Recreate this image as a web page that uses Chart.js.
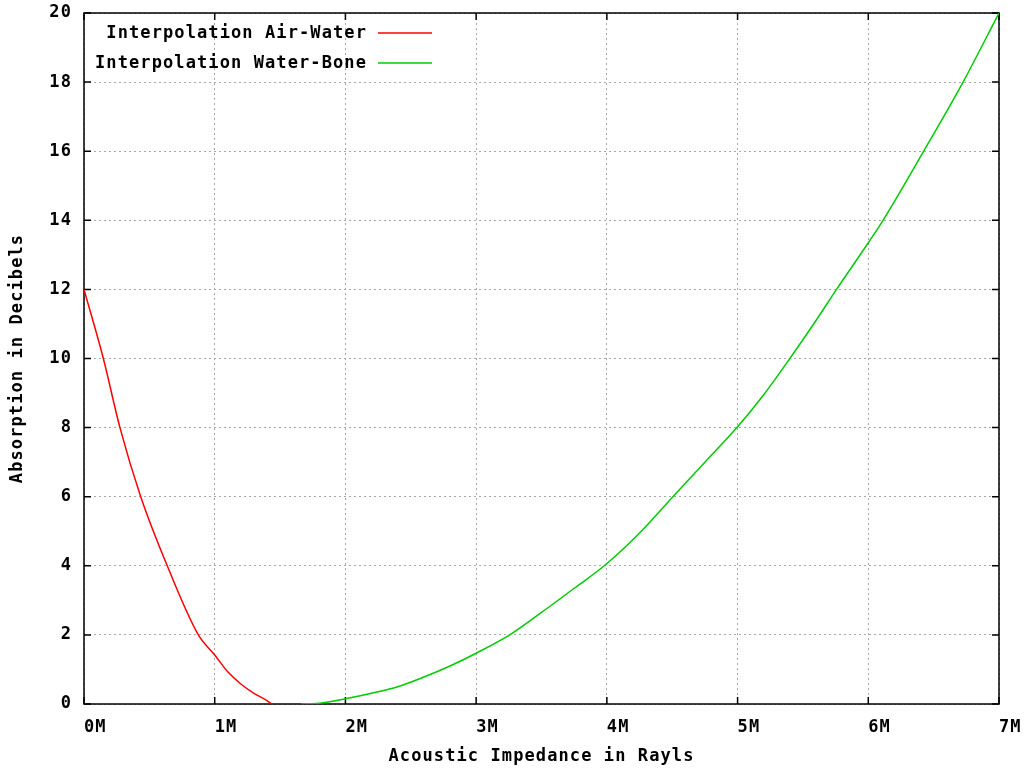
<!DOCTYPE html>
<html>
<head>
<meta charset="utf-8">
<script src="https://cdn.jsdelivr.net/npm/chart.js@4.4.1/dist/chart.umd.min.js"></script>
<style>
  html, body { margin: 0; padding: 0; background: #fff; }
  canvas { display: block; }
</style>
</head>
<body>
<canvas id="chart" width="1026" height="768"></canvas>
<script>
// values
const seriesLabels = ['Interpolation Air-Water', 'Interpolation Water-Bone'];
const airWaterX = [0, 0.148, 0.275, 0.434, 0.637, 0.875, 1.0, 1.1, 1.2, 1.3, 1.4, 1.436];
const airWaterY = [12, 10, 8, 6, 4, 2, 1.42, 0.93, 0.58, 0.31, 0.1, 0];
const waterBoneX = [1.66, 1.8, 2.0, 2.2, 2.4, 2.6, 2.8, 3.0, 3.257, 3.5, 3.75, 3.98, 4.25, 4.505, 4.75, 4.995, 5.2, 5.4, 5.6, 5.757, 6.0, 6.113, 6.424, 6.725, 7.0];
const waterBoneY = [0, 0.02, 0.15, 0.31, 0.5, 0.78, 1.1, 1.47, 2, 2.65, 3.35, 4, 4.95, 6, 7, 8, 8.95, 10, 11.1, 12, 13.35, 14, 16, 18, 20];
const xTicks = [0, 1, 2, 3, 4, 5, 6, 7];
const yTicks = [0, 2, 4, 6, 8, 10, 12, 14, 16, 18, 20];

const FONT = { family: '"DejaVu Sans Mono", monospace', size: 17, weight: 'bold' };
const SPACING = '1.1px';

const toPoints = (xs, ys) => xs.map((x, i) => ({ x, y: ys[i] }));

// gnuplot style: spaced text, border box with inward ticks on all sides, legend inside
const gnuplotLook = {
  id: 'gnuplotLook',
  beforeDraw(chart) {
    chart.ctx.letterSpacing = SPACING;
  },
  beforeDatasetsDraw(chart) {
    const { ctx, chartArea: a, scales } = chart;
    ctx.save();
    ctx.strokeStyle = '#000';
    ctx.lineWidth = 1.5;
    ctx.strokeRect(a.left, a.top, a.right - a.left, a.bottom - a.top);
    ctx.beginPath();
    xTicks.forEach(v => {
      const px = scales.x.getPixelForValue(v);
      ctx.moveTo(px, a.bottom); ctx.lineTo(px, a.bottom - 7);
      ctx.moveTo(px, a.top); ctx.lineTo(px, a.top + 7);
    });
    yTicks.forEach(v => {
      const py = scales.y.getPixelForValue(v);
      ctx.moveTo(a.left, py); ctx.lineTo(a.left + 7, py);
      ctx.moveTo(a.right, py); ctx.lineTo(a.right - 7, py);
    });
    ctx.stroke();
    ctx.restore();
  },
  afterDraw(chart) {
    const { ctx, chartArea: a } = chart;
    ctx.save();
    ctx.letterSpacing = SPACING;
    ctx.font = `${FONT.weight} ${FONT.size}px ${FONT.family}`;
    ctx.textAlign = 'right';
    ctx.textBaseline = 'middle';
    chart.data.datasets.forEach((ds, i) => {
      const y = a.top + 20 + i * 30;
      ctx.fillStyle = '#000';
      ctx.fillText(ds.label, a.left + 283, y + 1);
      ctx.strokeStyle = ds.borderColor;
      ctx.lineWidth = 1.5;
      ctx.beginPath();
      ctx.moveTo(a.left + 294, y);
      ctx.lineTo(a.left + 348, y);
      ctx.stroke();
    });
    ctx.restore();
  }
};

new Chart(document.getElementById('chart'), {
  type: 'scatter',
  data: {
    datasets: [
      {
        label: seriesLabels[0],
        data: toPoints(airWaterX, airWaterY),
        showLine: true,
        borderColor: '#ff0000',
        borderWidth: 1.5,
        pointRadius: 0,
        cubicInterpolationMode: 'monotone'
      },
      {
        label: seriesLabels[1],
        data: toPoints(waterBoneX, waterBoneY),
        showLine: true,
        borderColor: '#00cc00',
        borderWidth: 1.5,
        pointRadius: 0,
        cubicInterpolationMode: 'monotone'
      }
    ]
  },
  options: {
    responsive: false,
    animation: false,
    layout: { padding: { left: 0, top: 13, right: 27, bottom: 0 } },
    plugins: {
      legend: { display: false },
      tooltip: { enabled: false }
    },
    scales: {
      x: {
        type: 'linear',
        min: 0,
        max: 7,
        afterFit: s => { s.height = 64; s.paddingLeft = 0; s.paddingRight = 0; },
        afterBuildTicks: s => { s.ticks = xTicks.map(v => ({ value: v })); },
        ticks: {
          align: 'start',
          padding: 13,
          color: '#000',
          font: FONT,
          maxRotation: 0,
          callback: v => v + 'M'
        },
        grid: { color: '#a8a8a8', lineWidth: 1, drawTicks: false },
        border: { display: false, dash: [2, 3] },
        title: {
          display: true,
          text: 'Acoustic Impedance in Rayls',
          color: '#000',
          font: FONT,
          padding: { top: 0, bottom: 1 }
        }
      },
      y: {
        min: 0,
        max: 20,
        afterFit: s => { s.width = 84; s.paddingTop = 0; s.paddingBottom = 0; },
        afterBuildTicks: s => { s.ticks = yTicks.map(v => ({ value: v })); },
        ticks: { padding: 12, color: '#000', font: FONT },
        grid: { color: '#a8a8a8', lineWidth: 1, drawTicks: false },
        border: { display: false, dash: [2, 3] },
        title: {
          display: true,
          text: 'Absorption in Decibels',
          color: '#000',
          font: FONT,
          padding: { top: 7, bottom: 0 }
        }
      }
    }
  },
  plugins: [gnuplotLook]
});
</script>
</body>
</html>
